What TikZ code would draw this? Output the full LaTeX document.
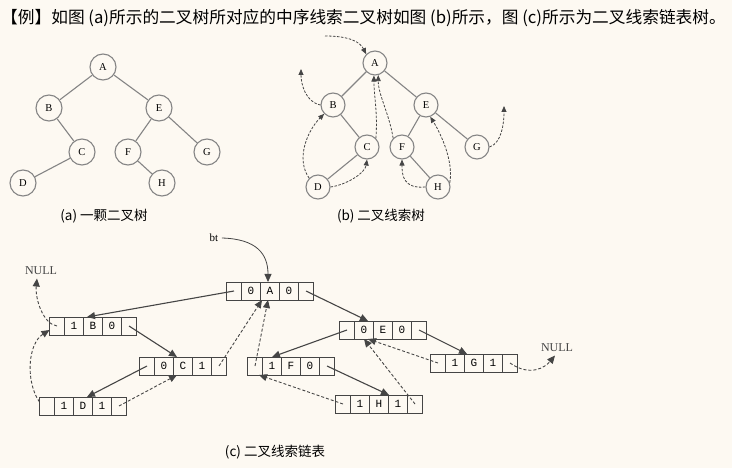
\documentclass[tikz,border=0pt]{standalone}
\usepackage{fontspec}
\setmainfont{Liberation Serif}
\newfontfamily\cjk{Noto Sans CJK SC}
\newfontfamily\mono{Liberation Mono}
\usetikzlibrary{arrows.meta,positioning}
\definecolor{paper}{HTML}{FDF9F2}
\definecolor{treeline}{HTML}{858585}
\definecolor{boxline}{HTML}{454545}
\tikzset{
  tnode/.style={circle, draw=treeline, line width=1.1pt, fill=paper, inner sep=0pt, minimum size=#1, font=\fontsize{10.5}{10.5}\selectfont},
  tnode/.default=26pt,
  tedge/.style={draw=treeline, line width=1.1pt},
  tthread/.style={draw=boxline, dash pattern=on 2.5pt off 1.5pt, line width=0.8pt, -{Triangle[length=6pt,width=5pt]}},
  cellbox/.style={draw=boxline, line width=0.9pt, minimum height=18pt, outer sep=0pt, inner sep=0pt, font=\mono\fontsize{11}{11}\selectfont},
  ptrcell/.style={cellbox, minimum width=15pt},
  fldcell/.style={cellbox, minimum width=19pt},
  link/.style={draw=boxline, line width=1.1pt, -{Triangle[length=8pt,width=7pt]}},
  thread/.style={link, line width=0.9pt, dash pattern=on 3pt off 2pt},
  caption/.style={font=\cjk\fontsize{13.5}{13.5}\selectfont},
}
% one list node: lchild | ltag | data | rtag | rchild
\newcommand\listnode[5]{%
  \node[fldcell] (#1-d) at (#2) {#4};
  \node[fldcell, left=0pt of #1-d] (#1-lt) {#3};
  \node[ptrcell, left=0pt of #1-lt] (#1-l) {};
  \node[fldcell, right=0pt of #1-d] (#1-rt) {#5};
  \node[ptrcell, right=0pt of #1-rt] (#1-r) {};
}
\begin{document}
\begin{tikzpicture}[x=1pt, y=-1pt]
  \fill[paper] (0,0) rectangle (732,468);
  \useasboundingbox (0,0) rectangle (732,468);
  \node[anchor=west, inner sep=1pt, font=\cjk\fontsize{16.7}{16.7}\selectfont] (title) at (0,18)
    {【例】如图 (a)所示的二叉树所对应的中序线索二叉树如图 (b)所示，图 (c)所示为二叉线索链表树。};

  % (a)
  \foreach \n/\x/\y in {A/103/67, B/49/108, E/159/108, C/82/152, F/128/152, G/207/152, D/23/183, H/162/183}
    \node[tnode] (a\n) at (\x,\y) {\n};
  \foreach \u/\v in {A/B, A/E, B/C, C/D, E/F, E/G, F/H}
    \draw[tedge] (a\u) -- (a\v);
  \node[caption] (capa) at (104,216) {(a) 一颗二叉树};

  % (b)
  \foreach \n/\x/\y in {A/375/63, B/333/105, E/426/105, C/367/147, F/402/147, G/477/147, D/318/187, H/438/187}
    \node[tnode=24pt] (b\n) at (\x,\y) {\n};
  \foreach \u/\v in {A/B, A/E, B/C, C/D, E/F, E/G, F/H}
    \draw[tedge] (b\u) -- (b\v);
  \coordinate (bTop) at (325,36);
  \coordinate (bLeft) at (301,69);
  \coordinate (bRight) at (504,106);
  \draw[tthread] (bTop) .. controls +(25,0) and +(-6,-12) .. (bA.north west);
  \draw[tthread] (bB.west) .. controls +(-15,-3) and +(0,15) .. (bLeft);
  \draw[tthread] (bD.north west) .. controls +(-14,-20) and +(-16,16) .. (bB.south west);
  \draw[tthread] (bD.east) .. controls +(15,-2) and +(-2,14) .. (bC.south);
  \draw[tthread] (bC.north east) .. controls +(2,-25) and +(0,20) .. (bA.-95);
  \draw[tthread] (bF.north west) .. controls +(-4,-25) and +(0,20) .. (bA.-75);
  \draw[tthread] (bH.west) .. controls +(-22,2) and +(0,16) .. (bF.south);
  \draw[tthread] (bH.20) .. controls +(4,-22) and +(10,16) .. (bE.-70);
  \draw[tthread] (bG.east) .. controls +(12,-4) and +(0,18) .. (bRight);
  \node[caption] (capb) at (381,216) {(b) 二叉线索树};

  % (c)
  \listnode{A}{270,291}{0}{A}{0}
  \listnode{B}{93,326}{1}{B}{0}
  \listnode{C}{183,366}{0}{C}{1}
  \listnode{D}{83,406}{1}{D}{1}
  \listnode{E}{383,330}{0}{E}{0}
  \listnode{F}{291,366}{1}{F}{0}
  \listnode{G}{474,363}{1}{G}{1}
  \listnode{H}{379,404}{1}{H}{1}
  \node[font=\fontsize{11}{11}\selectfont] (bt) at (214,238) {bt};
  \node[text=boxline, font=\fontsize{12}{12}\selectfont] (nullL) at (41,271) {NULL};
  \node[text=boxline, font=\fontsize{12}{12}\selectfont] (nullR) at (557,348) {NULL};
  \draw[link, line width=0.8pt] (bt.east) .. controls +(35,1) and +(0,-28) .. ([xshift=-2pt]A-d.north);
  \draw[link] (A-l.center) -- ([xshift=-6pt]B-d.north);
  \draw[link] (B-r.center) -- ([xshift=-6pt]C-d.north);
  \draw[link] (C-l.center) -- ([xshift=4pt]D-d.north);
  \draw[link] (A-r.center) -- ([xshift=-15pt]E-d.north);
  \draw[link] (E-l.center) -- (F-lt.north);
  \draw[link] (E-r.center) -- ([xshift=-7pt]G-d.north);
  \draw[link] (F-r.center) -- ([xshift=10pt]H-d.north);
  \draw[thread] (B-l.center) .. controls +(-14,-2) and +(-2,20) .. ([xshift=-4pt]nullL.south);
  \draw[thread] ([yshift=4pt]D-l.west) .. controls +(-14,-20) and +(-22,14) .. ([yshift=-4pt]B-l.west);
  \draw[thread] (D-r.center) -- ([xshift=-6pt]C-d.south);
  \draw[thread] (C-r.center) -- ([xshift=-8pt]A-d.south);
  \draw[thread] (F-l.center) -- ([xshift=-2pt]A-d.south);
  \draw[thread] (H-l.center) -- ([xshift=4pt]F-l.south);
  \draw[thread] (H-r.center) -- (E-lt.south);
  \draw[thread] (G-l.center) -- ([xshift=4pt]E-lt.south);
  \draw[thread] (G-r.center) .. controls +(20,14) and +(-10,12) .. ([xshift=-2pt]nullR.south);
  \node[caption] (capc) at (275,452) {(c) 二叉线索链表};
\end{tikzpicture}
\end{document}
